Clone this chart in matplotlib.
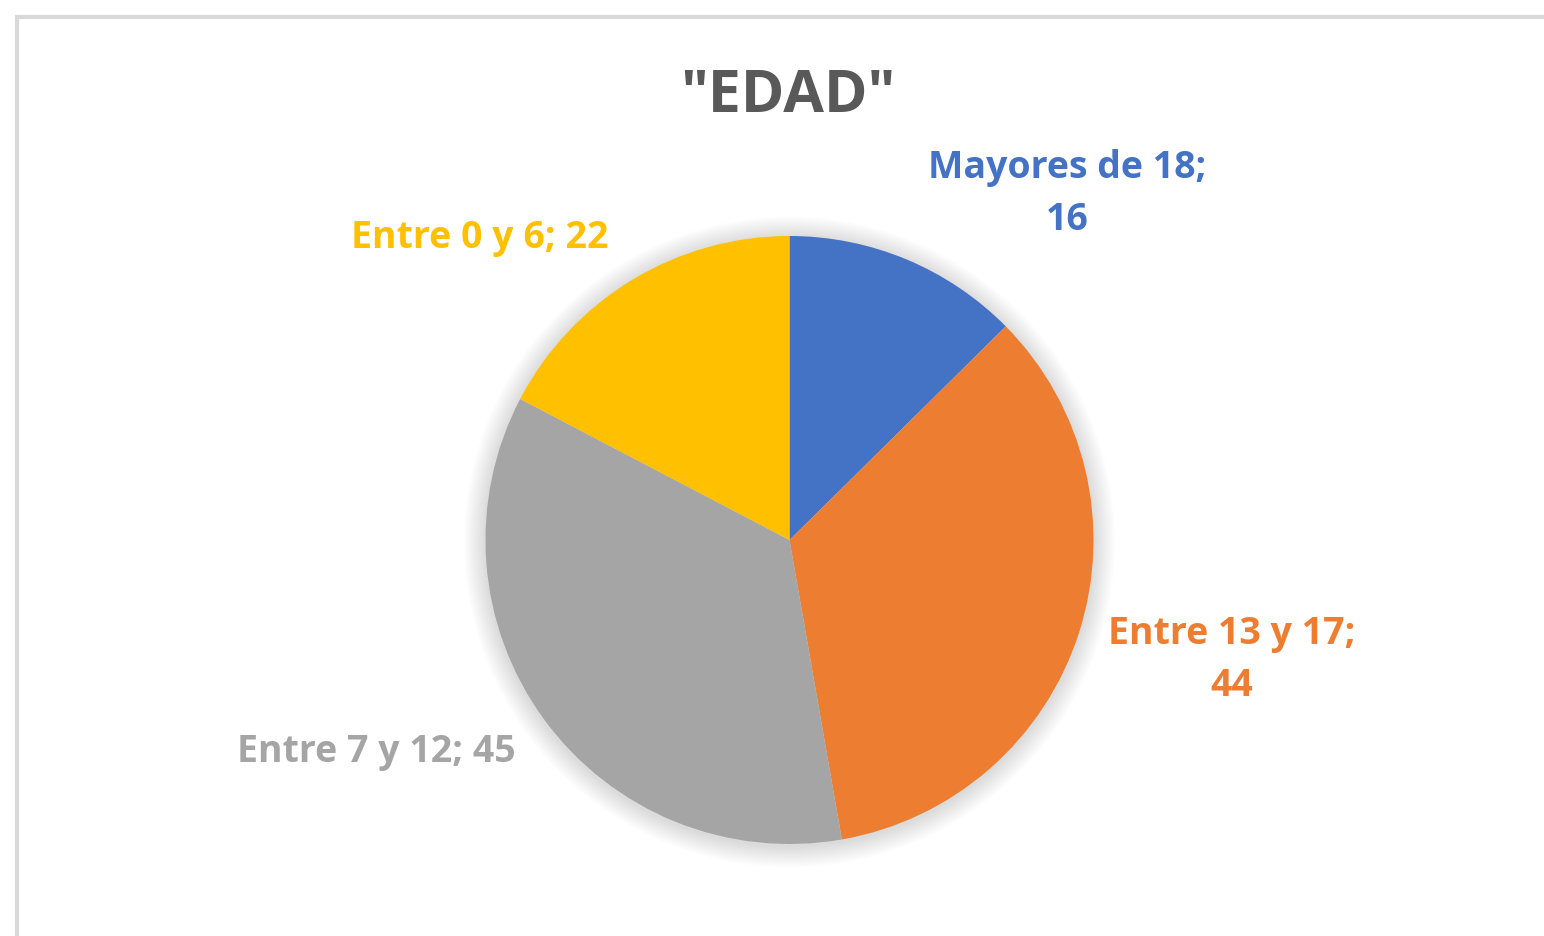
import matplotlib
matplotlib.use("Agg")
import matplotlib.pyplot as plt
from matplotlib.patches import Circle, Rectangle

categories = ["Mayores de 18", "Entre 13 y 17", "Entre 7 y 12", "Entre 0 y 6"]
values = [16, 44, 45, 22]
colors = ["#4472C4", "#ED7D31", "#A5A5A5", "#FFC000"]
title = '"EDAD"'

W, H = 1544, 936
fig = plt.figure(figsize=(W / 100, H / 100), dpi=100)
ax = fig.add_axes([0, 0, 1, 1])
ax.set_xlim(0, W)
ax.set_ylim(0, H)
ax.set_aspect("equal")
ax.axis("off")

# outer chart frame (cut off at right/bottom)
ax.add_patch(Rectangle((17, -20), W + 40, H - 17 + 20, fill=False,
                       edgecolor="#D9D9D9", linewidth=3.0, zorder=0))

cx, cy, r = 789.5, H - 540, 304
# soft shadow
for i in range(18, 0, -1):
    ax.add_patch(Circle((cx, cy - 2), r + i * 1.2, facecolor="#000000",
                        alpha=0.006, edgecolor="none", zorder=1))

ax.pie(values, colors=colors, startangle=90, counterclock=False,
       center=(cx, cy), radius=r, wedgeprops=dict(linewidth=0, zorder=2),
       frame=True)
ax.set_xlim(0, W)
ax.set_ylim(0, H)
ax.axis("off")

fam = ["Open Sans", "DejaVu Sans"]
ax.text(788, H - 96, title, ha="center", va="center", fontsize=42.5,
        fontweight="bold", color="#595959", family=fam)

lbl = [f"{c};\n{v}" for c, v in zip(categories, values)]
pos = [(1067, H - 194, lbl[0]),
       (1232, H - 660, lbl[1]),
       (376, H - 752, f"{categories[2]}; {values[2]}"),
       (480, H - 238, f"{categories[3]}; {values[3]}")]
for (x, y, t), c in zip(pos, colors):
    ax.text(x, y, t, ha="center", va="center", fontsize=27, fontweight="bold",
            color=c, family=fam, linespacing=1.48)

fig.savefig("out.png", dpi=100, facecolor="white")
